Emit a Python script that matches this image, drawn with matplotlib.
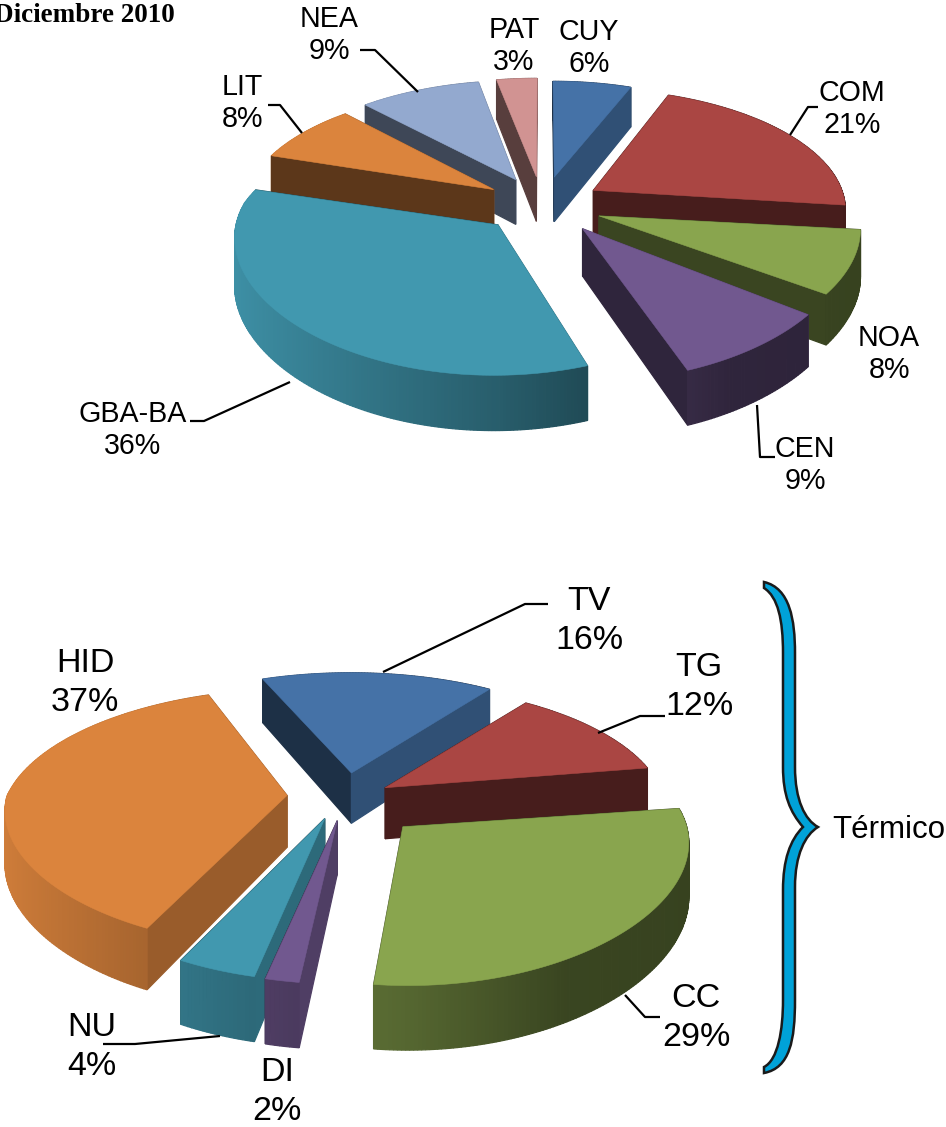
import matplotlib
matplotlib.use("Agg")
import matplotlib.pyplot as plt
from matplotlib.patches import Polygon, PathPatch
from matplotlib.path import Path
import numpy as np

plt.rcParams["font.family"] = ["Liberation Sans", "DejaVu Sans"]

# regiones (torta de arriba)
reg_labels = ["CUY", "COM", "NOA", "CEN", "GBA-BA", "LIT", "NEA", "PAT"]
reg_values = [6, 21, 8, 9, 36, 8, 9, 3]
reg_colors = ["#4572A7", "#AA4643", "#89A54E", "#71588F", "#4198AF", "#DB843D", "#93A9CF", "#D19392"]

# tecnologia (torta de abajo)
tec_labels = ["TV", "TG", "CC", "DI", "NU", "HID"]
tec_values = [16, 12, 29, 2, 4, 37]
tec_colors = ["#4572A7", "#AA4643", "#89A54E", "#71588F", "#4198AF", "#DB843D"]


def project(x, y, p):
    s = 1 / (1 + p["k"] * y)
    # en el frente el ancho crece menos que el alto
    sx = np.where(np.asarray(y) > 0, s, 1 / (1 + 0.6 * p["k"] * np.asarray(y)))
    return p["cx"] + sx * x * p["rx"], p["cy"] - s * y * p["ry"], s


def shade(color, f):
    return np.array(matplotlib.colors.to_rgb(color)) * f


def arc_shade(nx):
    return np.interp(nx, [-1, 0, 0.5, 1], [0.95, 0.62, 0.42, 0.4])


def wall_shade(nx):
    return np.interp(nx, [0.2, 0.6], [0.42, 0.7])


def face(ax, pts, color, lw=0.4):
    ax.add_patch(Polygon(pts, closed=True, fc=color, ec=color, lw=lw))


def draw_pie(ax, values, colors, p):
    fracs = np.array(values) / np.sum(values)
    edges = np.radians(p["start"]) + np.concatenate([[0], np.cumsum(fracs)]) * 2 * np.pi
    slices = []
    for i in range(len(values)):
        t0, t1 = p["turn"][i]
        a0, a1 = edges[i] + np.radians(t0), edges[i + 1] + np.radians(t1)
        mid = (edges[i] + edges[i + 1]) / 2
        ox, oy = p["explode"] * np.sin(mid), p["explode"] * np.cos(mid)
        slices.append((project(ox, oy, p)[1] + p["shift"][i][1], a0, a1, ox, oy, colors[i],
                       p["shift"][i], p["scale"][i]))
    # de atras hacia adelante
    slices.sort(key=lambda t: t[0])
    for _, a0, a1, ox, oy, col, (dx, dy), sc in slices:
        th = np.linspace(a0, a1, max(4, int((a1 - a0) * 80)))
        xs, ys, ss = project(ox + sc * np.sin(th), oy + sc * np.cos(th), p)
        xs, ys = xs + dx, ys + dy
        ax0, ay0, as0 = project(ox, oy, p)
        ax0, ay0 = ax0 + dx, ay0 + dy
        d = p["depth"]
        faces = []
        # paredes de corte
        for j, sign in ((0, -1), (-1, 1)):
            top = [(ax0, ay0), (xs[j], ys[j])]
            bot = [(xs[j], ys[j] + d * ss[j]), (ax0, ay0 + d * as0)]
            nx = sign * np.cos(th[j])
            faces.append(((ay0 + ys[j]) / 2, top + bot, shade(col, wall_shade(nx))))
        # pared exterior con degrade
        for j in range(len(th) - 1):
            quad = [(xs[j], ys[j]), (xs[j + 1], ys[j + 1]),
                    (xs[j + 1], ys[j + 1] + d * ss[j + 1]),
                    (xs[j], ys[j] + d * ss[j])]
            nx = np.sin((th[j] + th[j + 1]) / 2)
            faces.append(((ys[j] + ys[j + 1]) / 2, quad, shade(col, arc_shade(nx))))
        faces.sort(key=lambda t: t[0])
        for _, pts, c in faces:
            face(ax, pts, c, lw=0.9)
        face(ax, [(ax0, ay0)] + list(zip(xs, ys)), col)


fig = plt.figure(figsize=(9.46, 11.27), dpi=100)
ax = fig.add_axes([0, 0, 1, 1])
ax.set_xlim(0, 946)
ax.set_ylim(1127, 0)
ax.axis("off")

draw_pie(ax, reg_values, reg_colors,
         dict(cx=541, cy=205, rx=258, ry=122, k=0.143, depth=46, explode=0.24, start=0,
              shift=[(2, 0), (0, 0), (0, 0), (3, 0), (0, -2), (4, 0), (2, 0), (1, 0)],
              scale=[0.95, 0.98, 1, 1.01, 1, 0.97, 0.98, 0.98],
              turn=[(0, 0), (0, 0), (-1, -1), (1, 1), (2.5, -1.5), (0, 0), (0, 0), (0, 0)]))
draw_pie(ax, tec_values, tec_colors,
         dict(cx=345, cy=795, rx=280, ry=125, k=0.172, depth=52, explode=0.2, start=-22,
              shift=[(0, 2), (-6, 6), (15, 15), (-1, 0), (-3, -1), (-2, 1)],
              scale=[1, 1, 1, 1, 1, 1],
              turn=[(0, 0), (1.5, 1.5), (3, 3), (3.5, 2.5), (2, 2), (1, 1)]))

reg_pos = [(589, 48), (852, 109), (889, 354), (805, 465), (133, 430), (242, 103), (329, 35), (514, 46)]
for lab, val, (x, y) in zip(reg_labels, reg_values, reg_pos):
    ax.text(x, y, f"{lab}\n{val}%", ha="center", va="center", fontsize=20.6, linespacing=1.22,
            color="black")

tec_pos = [(589, 621), (699, 687), (696, 1018), (277, 1092), (92, 1047), (85, 683)]
for lab, val, (x, y) in zip(tec_labels, tec_values, tec_pos):
    ax.text(x, y, f"{lab}\n{val}%", ha="center", va="center", fontsize=24.5, linespacing=1.33,
            color="black")

ax.text(889, 830, "Térmico", ha="center", va="center", fontsize=22.5, color="black")
ax.text(175, 16, "Diciembre 2010", ha="right", va="center", fontsize=19.5, fontweight="bold",
        family=["Liberation Serif"], color="black", clip_on=True)

leaders = [
    [(360, 50), (375, 50), (418, 92)],
    [(268, 105), (280, 105), (302, 133)],
    [(818, 107), (808, 107), (790, 135)],
    [(757, 405), (760, 457), (775, 457)],
    [(190, 421), (204, 421), (290, 382)],
    [(383, 672), (525, 604), (548, 604)],
    [(598, 733), (640, 716), (665, 716)],
    [(625, 995), (645, 1017), (660, 1017)],
    [(103, 1044), (135, 1044), (220, 1036)],
]
for pts in leaders:
    ax.plot([q[0] for q in pts], [q[1] for q in pts], color="black", lw=1.6, solid_capstyle="butt")

verts = [(764, 582),
         (790, 588), (795, 620), (795, 653),
         (795, 767),
         (795, 800), (805, 820), (818, 827),
         (805, 835), (795, 855), (795, 887),
         (795, 1000),
         (795, 1040), (790, 1068), (764, 1073),
         (764, 1067),
         (778, 1060), (783, 1030), (783, 1000),
         (783, 890),
         (783, 860), (790, 840), (803, 827),
         (790, 812), (783, 795), (783, 767),
         (783, 653),
         (783, 620), (778, 597), (764, 588),
         (764, 582)]
codes = [Path.MOVETO, Path.CURVE4, Path.CURVE4, Path.CURVE4, Path.LINETO,
         Path.CURVE4, Path.CURVE4, Path.CURVE4, Path.CURVE4, Path.CURVE4, Path.CURVE4,
         Path.LINETO, Path.CURVE4, Path.CURVE4, Path.CURVE4, Path.LINETO,
         Path.CURVE4, Path.CURVE4, Path.CURVE4, Path.LINETO,
         Path.CURVE4, Path.CURVE4, Path.CURVE4, Path.CURVE4, Path.CURVE4, Path.CURVE4,
         Path.LINETO, Path.CURVE4, Path.CURVE4, Path.CURVE4, Path.CLOSEPOLY]
ax.add_patch(PathPatch(Path(verts, codes), fc="#00A2D8", ec="#1a1a1a", lw=1.8))

fig.savefig("out.png", dpi=100)
